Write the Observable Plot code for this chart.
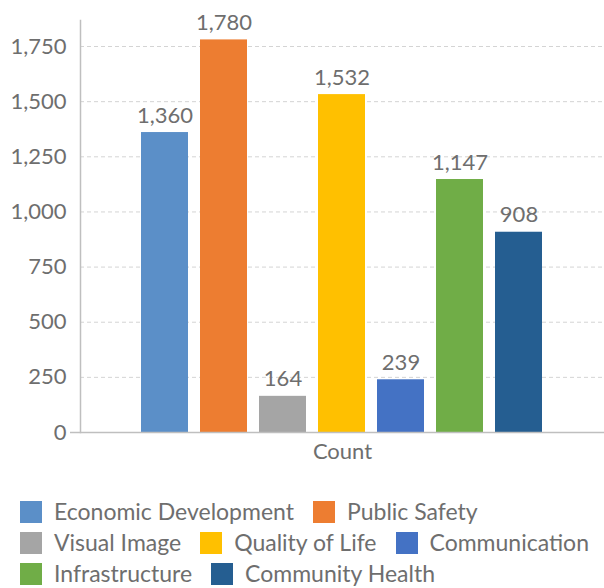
<!DOCTYPE html>
<html>
<head>
<meta charset="utf-8">
<script src="https://cdn.jsdelivr.net/npm/d3@7"></script>
<script src="https://cdn.jsdelivr.net/npm/@observablehq/plot@0.6"></script>
<style>
  html, body { margin: 0; padding: 0; background: #fff; }
  body { width: 604px; height: 588px; overflow: hidden; font-family: Lato, "Open Sans", sans-serif; }
  #chart svg { display: block; }
  #legend { margin: 29px 0 0 20px; width: 584px; font-size: 23px; color: #6e6e6e; line-height: 25px; }
  .row { display: flex; column-gap: 19px; margin-bottom: 6px; }
  .item { display: flex; align-items: center; white-space: nowrap; }
  .sw { width: 22px; height: 22px; margin-right: 12px; display: inline-block; }
</style>
</head>
<body>
<div id="chart"></div>
<div id="legend"></div>
<script>
const categories = ["Economic Development", "Public Safety", "Visual Image", "Quality of Life", "Communication", "Infrastructure", "Community Health"];
const counts = [1360, 1780, 164, 1532, 239, 1147, 908];
const colors = ["#5B8FC8", "#ED7D31", "#A5A5A5", "#FFC000", "#4472C4", "#70AD47", "#255E91"];
const groupLabel = "Count";
const yTicks = [0, 250, 500, 750, 1000, 1250, 1500, 1750];
const legendRows = [[0, 1], [2, 3, 4], [5, 6]];

const data = categories.map((c, i) => ({category: c, value: counts[i], group: groupLabel}));

const chart = Plot.plot({
  width: 604,
  height: 470,
  marginLeft: 80,
  marginRight: 0,
  marginTop: 20,
  marginBottom: 38,
  style: {fontFamily: "Lato, 'Open Sans', sans-serif", color: "#6e6e6e"},
  fx: {domain: [groupLabel], padding: 0, label: null},
  x: {domain: categories, paddingInner: 0.2, paddingOuter: 0.967, axis: null},
  y: {domain: [0, 1868], ticks: yTicks, label: null},
  color: {domain: categories, range: colors},
  marks: [
    Plot.gridY(yTicks.filter(d => d > 0), {stroke: "#d4d4d4", strokeOpacity: 1, strokeDasharray: "4,3"}),
    Plot.axisY(yTicks, {tickFormat: d3.format(","), tickSize: 0, tickPadding: 14, fontSize: 22, fill: "#6e6e6e", label: null}),
    Plot.axisFx({anchor: "bottom", tickSize: 0, tickPadding: 11, fontSize: 22, fill: "#6e6e6e", label: null}),
    Plot.barY(data, {fx: "group", x: "category", y: "value", fill: "category"}),
    Plot.text(data, {fx: "group", x: "category", y: "value", text: d => d3.format(",")(d.value), dy: -17, fontSize: 22, fill: "#6e6e6e"}),
    Plot.ruleY([0], {stroke: "#bfbfbf", strokeWidth: 1.5, insetLeft: -10}),
    Plot.frame({anchor: "left", stroke: "#bfbfbf", strokeWidth: 1.5})
  ]
});
document.getElementById("chart").appendChild(chart);

const legend = document.getElementById("legend");
legendRows.forEach(row => {
  const r = document.createElement("div");
  r.className = "row";
  row.forEach(i => {
    const item = document.createElement("div");
    item.className = "item";
    const sw = document.createElement("span");
    sw.className = "sw";
    sw.style.background = colors[i];
    item.appendChild(sw);
    item.appendChild(document.createTextNode(categories[i]));
    r.appendChild(item);
  });
  legend.appendChild(r);
});
</script>
</body>
</html>
